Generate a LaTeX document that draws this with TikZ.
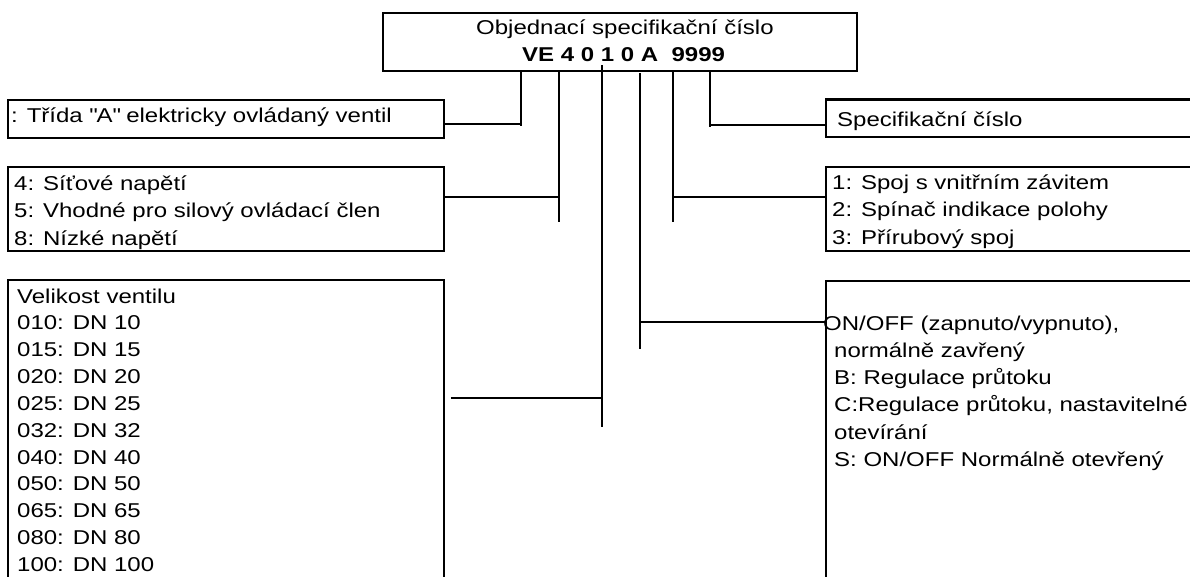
\documentclass[tikz,border=0pt]{standalone}
\usepackage{fontspec}
\setmainfont{Liberation Sans}[FakeStretch=1.2]
\usetikzlibrary{fit}
\tikzset{
  panel/.style={draw=black,line width=1.8pt,inner sep=0pt},
  lead/.style={draw=black,line width=1.2pt},
  txt/.style={anchor=base west,inner sep=0pt,font=\fontsize{20}{24}\selectfont},
  digits/.style={txt,font=\fontsize{20}{24}\selectfont\bfseries},
}
\begin{document}
\begin{tikzpicture}[x=1pt,y=-1pt]
  \clip (0,0) rectangle (1190,577);
  \fill[white] (0,0) rectangle (1190,577);
  % order number
  \node[panel,fit={(383,13) (857,71)}] (head) {};
  \node[txt] (title) at (476,35) {Objednací specifikační číslo};
  \node[digits] (num) at (522,62) {VE 4 0 1 0 A\ \ 9999};
  % left panels
  \node[panel,fit={(8,100) (444,138)}] (cls) {};
  \node[panel,fit={(8,167) (444,251)}] (volt) {};
  \node[panel,fit={(8,280) (444,620)}] (size) {};
  \node[txt] (cls-1) at (11,123) {: Třída \textquotedbl A\textquotedbl{} elektricky ovládaný ventil};
  \foreach \t [count=\i] in {4: Síťové napětí,5: Vhodné pro silový ovládací člen,8: Nízké napětí}
    \node[txt] (volt-\i) at (14,164+27*\i) {\t};
  \foreach \t [count=\i from 0] in {Velikost ventilu,010: DN 10,015: DN 15,020: DN 20,025: DN 25,
      032: DN 32,040: DN 40,050: DN 50,065: DN 65,080: DN 80,100: DN 100}
    \node[txt] (size-\i) at (17,303+26.85*\i) {\t};
  % right panels
  \node[panel,fit={(826,100) (1220,137)}] (spec) {};
  \draw[line width=2.8pt] (spec.north west) -- (spec.north east);
  \node[panel,fit={(826,167) (1220,251)}] (conn) {};
  \node[panel,fit={(826,281) (1220,620)}] (func) {};
  \node[txt] (spec-1) at (837,127) {Specifikační číslo};
  \foreach \t [count=\i] in {1: Spoj s vnitřním závitem,2: Spínač indikace polohy,3: Přírubový spoj}
    \node[txt] (conn-\i) at (832,163+27*\i) {\t};
  \node[txt] (func-0) at (823,330) {ON/OFF (zapnuto/vypnuto),};
  \foreach \t [count=\i] in {normálně zavřený,B: Regulace průtoku,{C:Regulace průtoku, nastavitelné},
      otevírání,S: ON/OFF Normálně otevřený}
    \node[txt] (func-\i) at (834,330+27.3*\i) {\t};
  % leads from the number
  \foreach \n/\x/\ya/\yj/\yb in {1/521/71/124/126,2/559/71/197/222,3/602/65/398/427,
      4/640/73/322/349,5/673/71/197/222,6/710/71/125/127} {
    \coordinate (t\n) at (\x,\ya);
    \coordinate (j\n) at (\x,\yj);
    \coordinate (f\n) at (\x,\yb);
    \draw[lead] (t\n) -- (f\n);
  }
  \draw[lead] (cls.east |- j1) -- (j1);
  \draw[lead] (volt.east |- j2) -- (j2);
  \draw[lead] ([xshift=6pt]size.east |- j3) -- (j3);
  \draw[lead] (j4) -- (func.west |- j4);
  \draw[lead] (j5) -- (conn.west |- j5);
  \draw[lead] (j6) -- (spec.west |- j6);
\end{tikzpicture}
\end{document}
